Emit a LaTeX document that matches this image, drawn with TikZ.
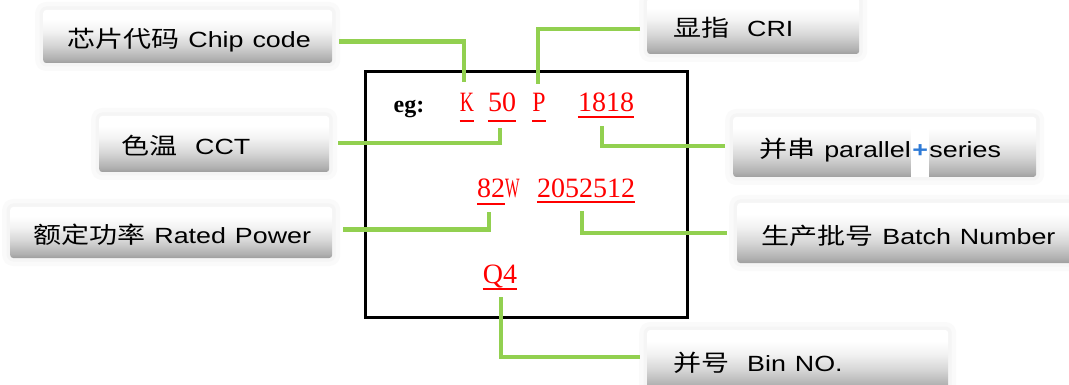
\documentclass[tikz,border=0pt]{standalone}
\usepackage{fontspec}
\setmainfont{Liberation Serif}
\setsansfont{Liberation Sans}
\newfontfamily\cjk{Noto Sans CJK SC}
\usetikzlibrary{calc}
\definecolor{lgreen}{HTML}{92D050}
\definecolor{plusblue}{HTML}{2E7AD6}
\definecolor{redtxt}{HTML}{FF0000}
\pgfdeclareverticalshading{lblshade}{100bp}{color(0bp)=(black!38); color(25bp)=(black!38); color(29bp)=(black!31); color(42bp)=(black!16); color(55bp)=(black!5); color(66bp)=(white); color(100bp)=(white)}
\newcommand\zh[1]{{\cjk\fontsize{23}{26}\selectfont #1}}
\newcommand\lw[1]{\scalebox{1.22}[1]{#1}}
\newcommand\sx[2]{\scalebox{#1}[1]{#2}}
\newcommand\pstrip{{\setlength\fboxsep{0pt}\colorbox{white}{\rule[-19pt]{0pt}{60pt}\hspace{1.2pt}\textcolor{plusblue}{\bfseries +}\hspace{1.2pt}}}}
\begin{document}
\begin{tikzpicture}[x=1pt,y=-1pt,
  lbl/.style={anchor=west, shade, shading=lblshade, rounded corners=3pt,
    inner ysep=0pt, text height=22pt, text depth=0pt, align=left,
    font=\sffamily\fontsize{22}{26}\selectfont,
    preaction={draw=black!2, line width=16pt, line join=round},
    preaction={draw=black!4, line width=7pt, line join=round}},
  rt/.style={text=redtxt, font=\rmfamily\fontsize{28}{30}\selectfont, inner sep=0pt, anchor=base},
  ul/.style={draw=redtxt, line width=1.4pt},
  gl/.style={draw=lgreen, line width=4.5pt, line join=miter},
  frame/.style={draw=black, line width=3pt, inner sep=0pt}]
\useasboundingbox (0,0) rectangle (1069,385);
\fill[white] (0,0) rectangle (1069,385);

% label boxes
\node[lbl, inner xsep=24pt, text width=241pt, minimum height=53pt] (b1) at (43,36.5) {\lw{\zh{芯片代码} Chip code}};
\node[lbl, inner xsep=22pt, text width=186pt, minimum height=56pt] (b2) at (99,144) {\lw{\zh{色温}~~CCT}};
\node[lbl, inner xsep=23pt, text width=276pt, minimum height=51pt] (b3) at (10,232.5) {\lw{\zh{额定功率} Rated Power}};
\node[lbl, inner xsep=26pt, text width=160pt, minimum height=56pt] (b4) at (647,26) {\lw{\zh{显指}~~CRI}};
\node[lbl, inner xsep=26pt, text width=251pt, minimum height=60pt] (b5) at (733,147) {\lw{\zh{并串} parallel\pstrip series}};
\node[lbl, inner xsep=24pt, text width=292pt, minimum height=60pt] (b6) at (737,233) {\lw{\zh{生产批号} Batch Number}};
\node[lbl, inner xsep=26pt, text width=249pt, minimum height=60pt] (b7) at (647,360) {\lw{\zh{并号}~~Bin NO.}};

% frame
\node[frame, minimum width=322pt, minimum height=245pt] (frame) at (526,194.5) {};

% code text
\node[anchor=base, inner sep=0pt, font=\rmfamily\bfseries\fontsize{24}{26}\selectfont] (eg) at (409,113) {eg:};
\node[rt] (K) at (467,112) {\sx{0.7}{K}};
\node[rt] (n50) at (502,112) {50};
\node[rt] (P) at (539,112) {\sx{0.85}{P}};
\node[rt] (n1818) at (606,112) {1818};
\node[rt, anchor=base west] (p82) at (477,197) {82\sx{0.55}{W}};
\node[rt] (p2052) at (586,197) {2052512};
\node[rt] (Q4) at (500,283) {Q4};

% underlines
\draw[ul] ($(K.base west)+(0,9)$) -- ($(K.base east)+(0,9)$);
\draw[ul] ($(n50.base west)+(0,9)$) -- ($(n50.base east)+(0,9)$);
\draw[ul] ($(P.base west)+(0,9)$) -- ($(P.base east)+(0,9)$);
\draw[ul] ($(n1818.base west)+(0,5)$) -- ($(n1818.base east)+(0,5)$);
\draw[ul] ($(p82.base west)+(0,7)$) -- ($(p82.base west)+(28,7)$);
\draw[ul] ($(p2052.base west)+(0,5)$) -- ($(p2052.base east)+(0,5)$);
\draw[ul] ($(Q4.base west)+(0,6)$) -- ($(Q4.base east)+(0,6)$);

% connectors
\draw[gl] ($(b1.east)+(7,5)$) -| ($(K.north)+(-3,-11)$);
\draw[gl] ($(b2.east)+(9,-1)$) -| ($(n50.south)+(-2,16)$);
\draw[gl] ($(b4.west)+(-7,3)$) -| ($(P.north)+(-1,-9)$);
\draw[gl] ($(n1818.south)+(-4,14)$) |- ($(b5.west)+(-8,-1)$);
\draw[gl] ($(b3.east)+(11,-3)$) -| ($(p82.base west)+(12,15)$);
\draw[gl] ($(p2052.south)+(-4,14)$) |- ($(b6.west)+(-10,0)$);
\draw[gl] ($(Q4.base)+(1,14)$) |- ($(b7.west)+(-7,-3)$);
\end{tikzpicture}
\end{document}
